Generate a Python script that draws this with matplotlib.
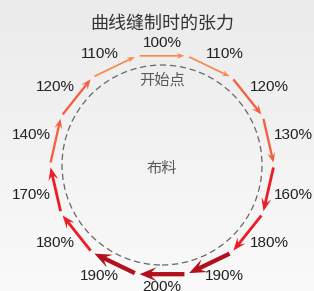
import numpy as np
import matplotlib.pyplot as plt
from matplotlib.patches import Circle
from matplotlib.colors import LinearSegmentedColormap

title = "曲线缝制时的张力"
start_label = "开始点"
fabric_label = "布料"
# tension of each stitch segment, clockwise starting at the top
tensions = [100, 110, 120, 130, 160, 180, 190, 200, 190, 180, 170, 140, 120, 110]


# colour, shaft width, head width, head length for a tension level
def seg_style(t):
    if t <= 110:
        return "#F7894A", 1.7, 6, 8
    if t <= 140:
        return "#F4603E", 2.3, 8, 10
    if t <= 180:
        return "#EE1C25", 2.8, 10, 13
    return "#B3101C", 4.3, 14, 17


def main():
    fig = plt.figure(figsize=(3.14, 2.91), dpi=100)
    ax = fig.add_axes([0, 0, 1, 1])

    # light grey background gradient
    bg = LinearSegmentedColormap.from_list("bg", ["#FAFAFA", "#EBEBEB"])
    grad = np.linspace(0, 1, 256).reshape(-1, 1)
    ax.imshow(grad, extent=[-162, 152, -126, 165], origin="lower",
              aspect="auto", cmap=bg, zorder=0)

    ax.add_patch(Circle((0, 0), 100, fill=False, ec="#666666", lw=0.9,
                        ls=(0, (5, 3)), zorder=1))

    n = len(tensions)
    step = 2 * np.pi / n
    R = 112
    for k, t in enumerate(tensions):
        a0 = np.pi / 2 + step / 2 - k * step
        a1 = a0 - step
        p0 = np.array([R * np.cos(a0), R * np.sin(a0)])
        p1 = np.array([R * np.cos(a1), R * np.sin(a1)])
        d = (p1 - p0) / np.linalg.norm(p1 - p0)
        s = p0 + d * 2.5
        e = p1 - d * 2.5
        color, w, hw, hl = seg_style(t)
        ax.arrow(s[0], s[1], e[0] - s[0], e[1] - s[1], width=w,
                 head_width=hw, head_length=hl, overhang=0.3,
                 length_includes_head=True, color=color, lw=0, zorder=2)

        # label just outside the middle of the segment
        am = (a0 + a1) / 2
        c, sn = np.cos(am), np.sin(am)
        mid = (p0 + p1) / 2
        lx = mid[0] + 25 * np.sign(c) * abs(c) ** 0.6
        ly = mid[1] + 13 * np.sign(sn) * abs(sn) ** 0.6
        ax.text(lx, ly, f"{t}%", ha="center", va="center", fontsize=11,
                color="#222222", family=["Liberation Sans", "DejaVu Sans"],
                zorder=3)

    cjk = ["Noto Sans CJK SC", "DejaVu Sans"]
    ax.text(0, 141, title, ha="center", va="center", fontsize=13,
            color="#333333", family=cjk)
    ax.text(0, 85, start_label, ha="center", va="center", fontsize=11,
            color="#5A5A5A", family=cjk)
    ax.text(0, -3.5, fabric_label, ha="center", va="center", fontsize=11,
            color="#5A5A5A", family=cjk)

    ax.set_xlim(-162, 152)
    ax.set_ylim(-126, 165)
    ax.axis("off")
    fig.savefig("out.png", dpi=100)


if __name__ == "__main__":
    main()
